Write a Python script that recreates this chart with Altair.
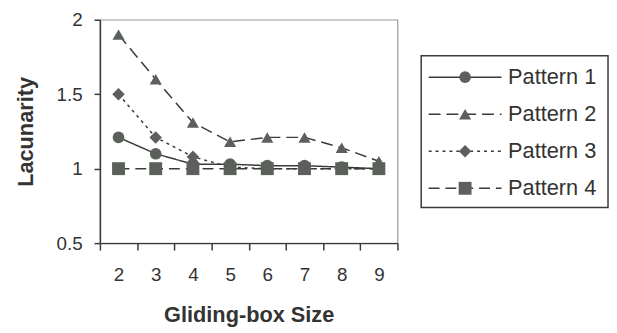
import altair as alt
import pandas as pd

sizes = [2, 3, 4, 5, 6, 7, 8, 9]
pattern1 = [1.21, 1.10, 1.03, 1.03, 1.02, 1.02, 1.01, 1.00]
pattern2 = [1.90, 1.60, 1.31, 1.18, 1.21, 1.21, 1.14, 1.05]
pattern3 = [1.50, 1.21, 1.08, 1.01, 1.00, 1.00, 1.00, 1.00]
pattern4 = [1.00, 1.00, 1.00, 1.00, 1.00, 1.00, 1.00, 1.00]
names = ["Pattern 1", "Pattern 2", "Pattern 3", "Pattern 4"]
y_ticks = [0.5, 1, 1.5, 2]

dashes = [[1, 0], [12, 6], [3, 4], [11, 6]]
shapes = ["circle", "triangle-up", "diamond", "square"]
msizes = [140, 170, 125, 135]

rows = []
for name, vals in zip(names, [pattern1, pattern2, pattern3, pattern4]):
    for s, v in zip(sizes, vals):
        rows.append({"size": s, "value": v, "pattern": name})
df = pd.DataFrame(rows)
leg_df = pd.DataFrame({"pattern": names, "rank": list(range(len(names)))})

LINE = "#3a3a3a"
FILL = "#5b605b"
TEXT = "#333333"
FONT = "Liberation Sans"

dash_scale = alt.Scale(domain=names, range=dashes)
shape_scale = alt.Scale(domain=names, range=shapes)
size_scale = alt.Scale(domain=names, range=msizes)

x = alt.X("size:O", bandPosition=0.5,
          scale=alt.Scale(type="band", paddingInner=0, paddingOuter=0),
          axis=alt.Axis(title="Gliding-box Size", labelAngle=0, tickBand="extent",
                        tickSize=7, labelPadding=16, titlePadding=20))
y = alt.Y("value:Q", scale=alt.Scale(domain=[0.5, 2], nice=False, zero=False),
          axis=alt.Axis(title="Lacunarity", values=y_ticks, format="~g", grid=False,
                        tickSize=6, labelPadding=12, titlePadding=19))

lines = alt.Chart(df).mark_line(color=LINE, strokeWidth=1.5).encode(
    x=x, y=y,
    strokeDash=alt.StrokeDash("pattern:N", scale=dash_scale, legend=None),
)
points = alt.Chart(df).mark_point(filled=True, fill=FILL, opacity=1).encode(
    x=x, y=y,
    shape=alt.Shape("pattern:N", scale=shape_scale, legend=None),
    size=alt.Size("pattern:N", scale=size_scale, legend=None),
)
main = alt.layer(lines, points).properties(width=301, height=226)

lx = alt.Scale(domain=[0, 1])
ly = alt.Scale(domain=[-1.55, 4.48], reverse=True)

box = alt.Chart(leg_df).transform_filter("datum.rank == 0").mark_rect(
    fillOpacity=0, stroke=LINE, strokeWidth=1.5).encode(
    x=alt.X(datum=0, type="quantitative", scale=lx, axis=None),
    x2=alt.X2(datum=1),
    y=alt.Y(datum=-0.58, type="quantitative", scale=ly, axis=None),
    y2=alt.Y2(datum=3.52),
)
lrule = alt.Chart(leg_df).mark_rule(color=LINE, strokeWidth=1.5).encode(
    x=alt.X(datum=0.04, type="quantitative", scale=lx, axis=None),
    x2=alt.X2(datum=0.43),
    y=alt.Y("rank:Q", scale=ly, axis=None),
    strokeDash=alt.StrokeDash("pattern:N", scale=dash_scale, legend=None),
)
lpt = alt.Chart(leg_df).mark_point(filled=True, fill=FILL, opacity=1).encode(
    x=alt.X(datum=0.235, type="quantitative", scale=lx, axis=None),
    y=alt.Y("rank:Q", scale=ly, axis=None),
    shape=alt.Shape("pattern:N", scale=shape_scale, legend=None),
    size=alt.Size("pattern:N", scale=size_scale, legend=None),
)
ltext = alt.Chart(leg_df).mark_text(align="left", baseline="middle", fontSize=22,
                                    font=FONT, color=TEXT).encode(
    x=alt.X(datum=0.465, type="quantitative", scale=lx, axis=None),
    y=alt.Y("rank:Q", scale=ly, axis=None),
    text="pattern:N",
)
legend = alt.layer(box, lrule, lpt, ltext).properties(
    width=189, height=226, view=alt.ViewBackground(strokeOpacity=0))

chart = alt.hconcat(main, legend, spacing=21).properties(
    padding={"left": 5, "top": 0, "right": 0, "bottom": 0}
).configure_view(stroke="#9a9a9a", strokeWidth=1.2).configure_axis(
    domainColor=LINE, tickColor=LINE, labelColor=TEXT, titleColor=TEXT,
    labelFont=FONT, titleFont=FONT, labelFontSize=19, titleFontSize=22,
    titleFontWeight="bold", domainWidth=1.5, tickWidth=1.5,
)

chart.save("out.html", embed_options={"renderer": "svg", "actions": False})
